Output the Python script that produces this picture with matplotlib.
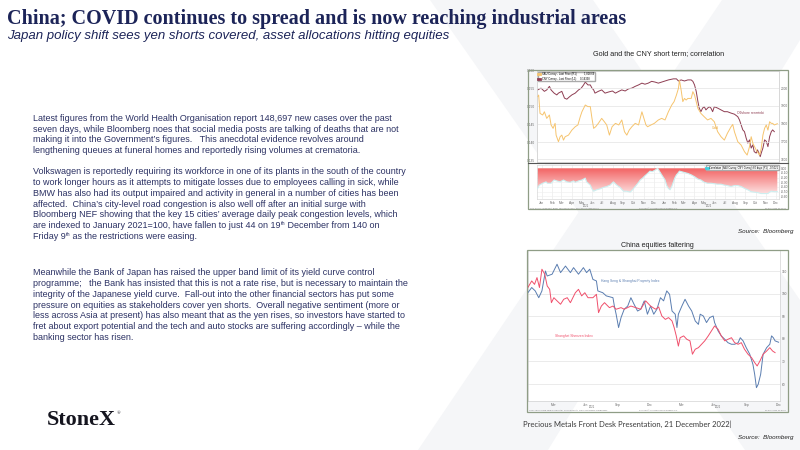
import numpy as np
import pandas as pd
import matplotlib
matplotlib.use('Agg')
import matplotlib.pyplot as plt
import matplotlib.dates as mdates
from matplotlib.colors import LinearSegmentedColormap
from matplotlib.patches import Rectangle, Polygon
from matplotlib.lines import Line2D

plt.rcParams['font.family'] = ['Liberation Sans', 'DejaVu Sans']

#%% data - gold and CNY (top chart)

gold_dates = ['2021-01-03', '2021-01-06', '2021-01-10', '2021-01-18', '2021-01-23', '2021-01-30',
              '2021-02-07', '2021-02-12', '2021-02-18', '2021-02-24', '2021-02-27', '2021-03-06',
              '2021-03-11', '2021-03-16', '2021-03-21', '2021-03-26', '2021-04-05', '2021-04-15',
              '2021-04-25', '2021-05-03', '2021-05-10', '2021-05-15', '2021-05-20', '2021-05-25',
              '2021-06-02', '2021-06-09', '2021-06-14', '2021-06-19', '2021-06-25', '2021-07-03',
              '2021-07-13', '2021-07-21', '2021-07-28', '2021-08-05', '2021-08-13', '2021-08-23',
              '2021-09-02', '2021-09-11', '2021-09-19', '2021-09-26', '2021-10-03', '2021-10-11',
              '2021-10-21', '2021-10-31', '2021-11-10', '2021-11-16', '2021-11-22', '2021-11-27',
              '2021-12-07', '2021-12-17', '2021-12-29', '2022-01-08', '2022-01-18', '2022-01-28',
              '2022-02-07', '2022-02-14', '2022-02-21', '2022-02-27', '2022-03-02', '2022-03-07',
              '2022-03-12', '2022-03-17', '2022-03-22', '2022-03-27', '2022-04-06', '2022-04-11',
              '2022-04-16', '2022-04-21', '2022-04-26', '2022-05-05', '2022-05-15', '2022-05-25',
              '2022-06-04', '2022-06-14', '2022-06-24', '2022-07-04', '2022-07-14', '2022-07-23',
              '2022-08-03', '2022-08-08', '2022-08-13', '2022-08-23', '2022-09-02', '2022-09-12',
              '2022-09-20', '2022-09-27', '2022-10-02', '2022-10-07', '2022-10-17', '2022-10-27',
              '2022-11-01', '2022-11-06', '2022-11-11', '2022-11-16', '2022-11-21', '2022-11-26',
              '2022-12-01', '2022-12-05', '2022-12-10', '2022-12-19']
gold_price = [1952, 1961, 1858, 1849, 1867, 1830,
              1849, 1793, 1774, 1802, 1736, 1699,
              1727, 1736, 1708, 1727, 1736, 1764,
              1783, 1793, 1839, 1867, 1886, 1905,
              1896, 1896, 1830, 1774, 1783, 1802,
              1830, 1811, 1793, 1736, 1783, 1802,
              1793, 1821, 1755, 1736, 1764, 1783,
              1802, 1793, 1867, 1830, 1793, 1783,
              1793, 1802, 1821, 1830, 1821, 1867,
              1905, 1924, 1961, 1999, 2045, 1989,
              1924, 1942, 1933, 1942, 1942, 1980,
              1961, 1924, 1886, 1858, 1839, 1821,
              1830, 1811, 1755, 1727, 1708, 1746,
              1783, 1796, 1755, 1699, 1680, 1643,
              1624, 1671, 1727, 1690, 1652, 1624,
              1661, 1736, 1774, 1793, 1764, 1811,
              1802, 1802, 1793, 1800]

cny_dates = ['2021-01-03', '2021-01-13', '2021-01-23', '2021-01-30', '2021-02-07', '2021-02-12',
             '2021-02-21', '2021-03-01', '2021-03-06', '2021-03-16', '2021-03-24', '2021-03-31',
             '2021-04-07', '2021-04-15', '2021-04-25', '2021-05-05', '2021-05-13', '2021-05-20',
             '2021-05-25', '2021-06-02', '2021-06-09', '2021-06-14', '2021-06-19', '2021-06-23',
             '2021-07-03', '2021-07-13', '2021-07-23', '2021-08-02', '2021-08-14', '2021-08-23',
             '2021-09-02', '2021-09-11', '2021-09-21', '2021-10-01', '2021-10-11', '2021-10-21',
             '2021-10-31', '2021-11-10', '2021-11-19', '2021-11-29', '2021-12-09', '2021-12-19',
             '2021-12-29', '2022-01-08', '2022-01-18', '2022-01-28', '2022-02-12', '2022-02-21',
             '2022-02-27', '2022-03-07', '2022-03-17', '2022-03-27', '2022-04-06', '2022-04-11',
             '2022-04-16', '2022-04-21', '2022-04-26', '2022-04-30', '2022-05-05', '2022-05-10',
             '2022-05-15', '2022-05-20', '2022-05-25', '2022-05-30', '2022-06-04', '2022-06-09',
             '2022-06-14', '2022-06-24', '2022-07-04', '2022-07-14', '2022-07-23', '2022-08-03',
             '2022-08-13', '2022-08-23', '2022-08-28', '2022-09-02', '2022-09-07', '2022-09-12',
             '2022-09-17', '2022-09-22', '2022-09-27', '2022-10-02', '2022-10-07', '2022-10-11',
             '2022-10-17', '2022-10-21', '2022-10-27', '2022-10-29', '2022-11-01', '2022-11-06',
             '2022-11-11', '2022-11-16', '2022-11-21', '2022-11-26', '2022-12-01', '2022-12-05',
             '2022-12-10']
cny_usd = [0.1547, 0.1552, 0.1543, 0.1547, 0.1557, 0.1547,
           0.1538, 0.1533, 0.1538, 0.1543, 0.1524, 0.1521,
           0.1527, 0.1533, 0.1538, 0.1547, 0.1552, 0.1561,
           0.1569, 0.1561, 0.1561, 0.1552, 0.1547, 0.1538,
           0.1543, 0.1547, 0.1538, 0.1541, 0.1544, 0.1538,
           0.1543, 0.1547, 0.1544, 0.1550, 0.1552, 0.1557,
           0.1561, 0.1566, 0.1563, 0.1566, 0.1571, 0.1569,
           0.1566, 0.1569, 0.1572, 0.1575, 0.1578, 0.1578,
           0.1572, 0.1575, 0.1572, 0.1575, 0.1575, 0.1571,
           0.1561, 0.1543, 0.1515, 0.1496, 0.1486, 0.1496,
           0.1500, 0.1491, 0.1496, 0.1500, 0.1496, 0.1486,
           0.1500, 0.1496, 0.1491, 0.1486, 0.1486, 0.1482,
           0.1479, 0.1472, 0.1463, 0.1449, 0.1435, 0.1430,
           0.1412, 0.1398, 0.1407, 0.1384, 0.1393, 0.1374,
           0.1370, 0.1379, 0.1365, 0.1360, 0.1370, 0.1384,
           0.1407, 0.1403, 0.1388, 0.1416, 0.1430, 0.1435,
           0.1430]

corr_dates = ['2021-01-03', '2021-01-08', '2021-01-18', '2021-01-28', '2021-02-01', '2021-02-12',
              '2021-02-21', '2021-03-01', '2021-03-11', '2021-03-21', '2021-03-31', '2021-04-10',
              '2021-04-20', '2021-04-25', '2021-05-05', '2021-05-15', '2021-05-25', '2021-05-29',
              '2021-06-09', '2021-06-14', '2021-06-19', '2021-06-28', '2021-07-08', '2021-07-18',
              '2021-07-28', '2021-08-07', '2021-08-17', '2021-08-27', '2021-09-06', '2021-09-16',
              '2021-09-26', '2021-10-06', '2021-10-13', '2021-10-21', '2021-10-29', '2021-11-05',
              '2021-11-12', '2021-11-19', '2021-11-27', '2021-12-04', '2021-12-11', '2021-12-19',
              '2021-12-27', '2022-01-08', '2022-01-18', '2022-01-23', '2022-01-28', '2022-02-02',
              '2022-02-07', '2022-02-12', '2022-02-16', '2022-02-21', '2022-02-25', '2022-03-02',
              '2022-03-07', '2022-03-17', '2022-03-27', '2022-04-06', '2022-04-16', '2022-04-26',
              '2022-05-05', '2022-05-15', '2022-05-25', '2022-06-04', '2022-06-14', '2022-06-24',
              '2022-07-04', '2022-07-14', '2022-07-23', '2022-08-03', '2022-08-13', '2022-08-23',
              '2022-09-02', '2022-09-12', '2022-09-22', '2022-10-02', '2022-10-11', '2022-10-21',
              '2022-11-01', '2022-11-11', '2022-11-21', '2022-11-26', '2022-12-01', '2022-12-10',
              '2022-12-19']
corr_vals = [-0.43, -0.36, -0.32, -0.29, -0.32, -0.32,
             -0.25, -0.27, -0.29, -0.25, -0.29, -0.30,
             -0.27, -0.30, -0.27, -0.25, -0.21, -0.29,
             -0.36, -0.44, -0.49, -0.46, -0.44, -0.41,
             -0.39, -0.36, -0.29, -0.36, -0.41, -0.49,
             -0.49, -0.51, -0.46, -0.39, -0.32, -0.25,
             -0.21, -0.16, -0.11, -0.06, -0.07, -0.04,
             -0.00, -0.14, -0.25, -0.37, -0.43, -0.46,
             -0.39, -0.29, -0.21, -0.14, -0.11, -0.06,
             -0.07, -0.09, -0.11, -0.14, -0.18, -0.23,
             -0.25, -0.30, -0.32, -0.32, -0.33, -0.34,
             -0.34, -0.36, -0.37, -0.39, -0.37, -0.37,
             -0.39, -0.43, -0.46, -0.50, -0.51, -0.52,
             -0.54, -0.54, -0.54, -0.51, -0.49, -0.50,
             -0.50]

#%% data - China equities (bottom chart)

prop_dates = ['2021-01-02', '2021-01-13', '2021-01-23', '2021-02-02', '2021-02-11', '2021-02-21',
              '2021-02-26', '2021-03-12', '2021-03-26', '2021-04-05', '2021-04-19', '2021-05-03',
              '2021-05-12', '2021-05-26', '2021-06-09', '2021-06-18', '2021-06-27', '2021-07-06',
              '2021-07-16', '2021-07-20', '2021-08-03', '2021-08-13', '2021-09-01', '2021-09-05',
              '2021-09-10', '2021-09-17', '2021-09-24', '2021-10-03', '2021-10-13', '2021-10-22',
              '2021-10-31', '2021-11-10', '2021-11-19', '2021-11-29', '2021-12-08', '2021-12-17',
              '2021-12-26', '2022-01-04', '2022-01-14', '2022-01-23', '2022-02-01', '2022-02-09',
              '2022-02-16', '2022-02-25', '2022-03-02', '2022-03-06', '2022-03-16', '2022-03-25',
              '2022-04-04', '2022-04-13', '2022-04-23', '2022-05-02', '2022-05-07', '2022-05-16',
              '2022-05-25', '2022-06-03', '2022-06-13', '2022-06-17', '2022-06-27', '2022-07-06',
              '2022-07-16', '2022-07-25', '2022-08-04', '2022-08-13', '2022-08-23', '2022-08-29',
              '2022-09-06', '2022-09-15', '2022-09-25', '2022-10-04', '2022-10-09', '2022-10-14',
              '2022-10-19', '2022-10-26', '2022-11-02', '2022-11-12', '2022-11-21', '2022-11-26',
              '2022-12-01', '2022-12-06', '2022-12-16']
prop_idx = [100.4, 102.7, 101.2, 98.2, 101.2, 110.0,
            107.8, 108.6, 113.0, 109.3, 112.2, 109.3,
            111.5, 108.6, 111.5, 109.3, 110.8, 106.3,
            105.6, 101.2, 100.4, 99.0, 98.2, 94.5,
            90.9, 85.0, 89.4, 93.1, 94.5, 98.2,
            95.3, 92.3, 93.1, 96.8, 90.9, 94.5,
            90.9, 93.1, 98.2, 96.8, 101.2, 99.7,
            92.3, 90.9, 85.0, 90.9, 94.5, 97.5,
            94.5, 92.3, 87.9, 86.4, 90.9, 90.1,
            87.2, 89.4, 90.1, 87.2, 83.5, 81.3,
            79.8, 78.3, 77.6, 77.6, 78.3, 80.5,
            79.1, 76.1, 73.2, 68.7, 64.3, 58.4,
            59.9, 64.3, 73.2, 76.1, 77.6, 81.3,
            80.5, 79.1, 78.5]

shsz_dates = ['2021-01-02', '2021-01-13', '2021-01-21', '2021-01-28', '2021-02-04', '2021-02-11',
              '2021-02-19', '2021-02-26', '2021-03-05', '2021-03-10', '2021-03-17', '2021-03-26',
              '2021-04-05', '2021-04-14', '2021-04-24', '2021-05-03', '2021-05-17', '2021-05-26',
              '2021-06-04', '2021-06-13', '2021-06-22', '2021-07-06', '2021-07-16', '2021-07-22',
              '2021-07-30', '2021-08-08', '2021-08-22', '2021-09-01', '2021-09-10', '2021-09-24',
              '2021-10-03', '2021-10-22', '2021-11-05', '2021-11-19', '2021-12-03', '2021-12-17',
              '2021-12-31', '2022-01-09', '2022-01-18', '2022-01-28', '2022-02-06', '2022-02-16',
              '2022-02-22', '2022-02-28', '2022-03-06', '2022-03-11', '2022-03-21', '2022-03-30',
              '2022-04-08', '2022-04-15', '2022-04-23', '2022-05-02', '2022-05-11', '2022-05-20',
              '2022-05-30', '2022-06-08', '2022-06-17', '2022-06-27', '2022-07-06', '2022-07-16',
              '2022-07-25', '2022-08-04', '2022-08-13', '2022-08-23', '2022-09-01', '2022-09-10',
              '2022-09-20', '2022-09-30', '2022-10-09', '2022-10-16', '2022-10-24', '2022-11-02',
              '2022-11-12', '2022-11-21', '2022-11-29', '2022-12-06']
shsz_idx = [102.7, 105.6, 104.1, 107.1, 102.7, 110.8,
            108.6, 103.4, 101.9, 96.0, 98.2, 96.8,
            95.3, 97.5, 98.2, 96.0, 100.4, 101.9,
            99.0, 100.4, 98.2, 98.2, 99.7, 91.6,
            94.5, 96.0, 93.8, 94.5, 93.1, 93.8,
            93.1, 94.5, 93.8, 93.1, 96.8, 94.5,
            93.1, 94.1, 90.1, 88.6, 89.4, 87.9,
            85.0, 81.3, 76.8, 80.5, 81.3, 79.8,
            79.1, 73.2, 75.4, 76.1, 77.6, 79.1,
            81.3, 83.5, 85.7, 84.2, 81.3, 79.1,
            79.8, 80.5, 78.3, 77.6, 78.3, 75.4,
            73.2, 71.7, 69.5, 68.0, 70.2, 73.2,
            74.6, 76.1, 74.6, 73.9]

month_ticks_top = pd.date_range('2021-01-01', '2022-12-01', freq='MS') + pd.Timedelta(days=14)
quarter_ticks = [pd.Timestamp(d) for d in ['2021-03-15', '2021-06-15', '2021-09-15', '2021-12-15',
                                           '2022-03-15', '2022-06-15', '2022-09-15', '2022-12-15']]

#%% figure setup

W, H = 800, 450
fig = plt.figure(figsize=(8, 4.5), dpi=100)
fig.patch.set_facecolor('white')
renderer = fig.canvas.get_renderer()

navy = '#1c2458'
body_col = '#2c3264'
frame_col = '#8f9d86'
tiny = 2.3


def box(x0, y0, x1, y1):
    return [x0 / W, 1 - y1 / H, (x1 - x0) / W, (y1 - y0) / H]


def put(x, y, s, **kw):
    return fig.text(x / W, 1 - y / H, s, **kw)


def fit(t, width):
    w = t.get_window_extent(renderer).width
    t.set_fontsize(t.get_fontsize() * width / w)


def put_parts(x, y, parts, size, color):
    # a line with superscripts: parts is a list of (text, is_superscript)
    cur = x
    for s, sup in parts:
        if sup:
            t = put(cur, y - size * 0.5, s, fontsize=size * 0.62, color=color)
        else:
            t = put(cur, y, s, fontsize=size, color=color)
        cur += t.get_window_extent(renderer).width


# faint watermark X behind the right half of the slide
wm = '#f5f6f8'
fig.patches.append(Polygon([(430 / W, 1), (593 / W, 1), (1, 1 - 300 / H), (1, 0), (745 / W, 0)],
                           closed=True, transform=fig.transFigure, fc=wm, ec='none', zorder=-5))
fig.patches.append(Polygon([(722 / W, 1), (1, 1), (1, 1 - 40 / H), (548 / W, 0), (418 / W, 0)],
                           closed=True, transform=fig.transFigure, fc=wm, ec='none', zorder=-5))

#%% slide text

t = put(7, 24, 'China; COVID continues to spread and is now reaching industrial areas',
        family='Liberation Serif', weight='bold', color=navy, fontsize=15)
fit(t, 620)
t = put(7, 39, 'Japan policy shift sees yen shorts covered, asset allocations hitting equities',
        style='italic', color=navy, fontsize=9)
fit(t, 444)

para1 = ['Latest figures from the World Health Organisation report 148,697 new cases over the past',
         'seven days, while Bloomberg noes that social media posts are talking of deaths that are not',
         'making it into the Government\u2019s figures.   This anecdotal evidence revolves around',
         'lengthening queues at funeral homes and reportedly rising volumes at crematoria.']
para2 = ['Volkswagen is reportedly requiring its workforce in one of its plants in the south of the country',
         'to work longer hours as it attempts to mitigate losses due to employees calling in sick, while',
         'BMW has also had its output impaired and activity in general in a number of cities has been',
         'affected.  China\u2019s city-level road congestion is also well off after an initial surge with',
         'Bloomberg NEF showing that the key 15 cities\u2019 average daily peak congestion levels, which',
         [('are indexed to January 2021=100, have fallen to just 44 on 19', False), ('th', True),
          (' December from 140 on', False)],
         [('Friday 9', False), ('th', True), (' as the restrictions were easing.', False)]]
para3 = ['Meanwhile the Bank of Japan has raised the upper band limit of its yield curve control',
         'programme;   the Bank has insisted that this is not a rate rise, but is necessary to maintain the',
         'integrity of the Japanese yield curve.  Fall-out into the other financial sectors has put some',
         'pressure on equities as stakeholders cover yen shorts.  Overall negative sentiment (more or',
         'less across Asia at present) has also meant that as the yen rises, so investors have started to',
         'fret about export potential and the tech and auto stocks are suffering accordingly \u2013 while the',
         'banking sector has risen.']

probe = put(33, 0, para2[0], fontsize=6)
fit(probe, 377)
body_size = probe.get_fontsize()
probe.remove()

step = 10.75
for lines, y0 in [(para1, 121), (para2, 174.3), (para3, 275.3)]:
    for i, line in enumerate(lines):
        if isinstance(line, str):
            put(33, y0 + i * step, line, fontsize=body_size, color=body_col)
        else:
            put_parts(33, y0 + i * step, line, body_size, body_col)

t = put(46.5, 425, 'StoneX', family='Liberation Serif', weight='bold', color='#15151f', fontsize=15)
fit(t, 69)
put(116.5, 414, '\u00ae', family='Liberation Serif', color='#15151f', fontsize=3.5)

t = put(523, 427, 'Precious Metals Front Desk Presentation, 21 December 2022|',
        family='Lato', color='#3a3a3a', fontsize=7)
fit(t, 208)

for yy in [233.5, 439.5]:
    t = put(793, yy, 'Source:  Bloomberg', style='italic', color='#222222', fontsize=6, ha='right')
    fit(t, 56)

t = put(659, 55.5, 'Gold and the CNY short term; correlation', color='#222222', fontsize=6, ha='center')
fit(t, 134)
t = put(657, 247, 'China equities faltering', color='#222222', fontsize=6, ha='center')
fit(t, 74)

#%% top chart: gold vs CNY

gd = pd.to_datetime(gold_dates)
cd = pd.to_datetime(cny_dates)
kd = pd.to_datetime(corr_dates)
x_start, x_end = pd.Timestamp('2021-01-01'), pd.Timestamp('2022-12-24')

ax1 = fig.add_axes(box(537, 71, 779, 162))
ax1r = ax1.twinx()
ax1.plot(cd, cny_usd, color='#8e3d52', lw=0.7)
ax1r.plot(gd, gold_price, color='#f6c46e', lw=0.7)
ax1.set_ylim(0.1345, 0.1600)
ax1r.set_ylim(1585, 2096)
ax1.set_xlim(x_start, x_end)
ax1.set_yticks([0.135, 0.140, 0.145, 0.150, 0.155, 0.160])
ax1.set_yticklabels(['0.135', '0.140', '0.145', '0.150', '0.155', '0.160'])
ax1r.set_yticks([1600, 1700, 1800, 1900, 2000])
ax1r.grid(axis='y', color='#e3e3e3', lw=0.5)
ax1.set_xticks([])
for a in (ax1, ax1r):
    a.tick_params(length=0, labelsize=tiny, pad=1.5, colors='#666666')
    for s in a.spines.values():
        s.set_color('#d0d0d0')
        s.set_linewidth(0.4)
ax1r.legend([Line2D([0], [0], color='#f6c46e', lw=2), Line2D([0], [0], color='#8e3d52', lw=2)],
            ['XAU Curncy - Last Price (R1)          1,818.69', 'CNY Curncy - Last Price (L1)     0.14338'],
            loc='upper left', fontsize=1.9, frameon=True, borderpad=0.3, handlelength=0.8,
            labelspacing=0.1, handletextpad=0.5, borderaxespad=0.2, fancybox=False,
            edgecolor='#aaaaaa', framealpha=1)
put(737, 114.5, 'Offshore renminbi', color='#8e3d52', fontsize=2.4)
put(712, 129, 'Gold', color='#e8a940', fontsize=2.4)

ax2 = fig.add_axes(box(537, 165, 779, 199))
poly = ax2.fill_between(kd, 0, corr_vals, color='none', lw=0)
red_cmap = LinearSegmentedColormap.from_list('reds', ['#f25e5e', '#fde2e2'])
grad = np.linspace(0, 1, 256).reshape(-1, 1)
xn = mdates.date2num([x_start, x_end])
im = ax2.imshow(grad, extent=[xn[0], xn[1], -0.56, 0.0], aspect='auto', cmap=red_cmap,
                origin='upper', zorder=1)
im.set_clip_path(poly.get_paths()[0], transform=ax2.transData)
ax2.plot(kd, corr_vals, color='#cdeff0', lw=0.8, zorder=3)
ax2.set_xlim(x_start, x_end)
ax2.set_ylim(-0.657, 0.071)
ax2.yaxis.tick_right()
ax2.set_yticks([0.0, -0.1, -0.2, -0.3, -0.4, -0.5, -0.6])
ax2.set_yticklabels(['0.00', '-0.10', '-0.20', '-0.30', '-0.40', '-0.50', '-0.60'])
ax2.set_xticks(month_ticks_top)
ax2.xaxis.set_major_formatter(mdates.DateFormatter('%b'))
ax2.grid(axis='x', color='#e6e6e6', lw=0.4, zorder=0)
ax2.grid(axis='y', color='#eeeeee', lw=0.4, zorder=0)
ax2.set_axisbelow(True)
ax2.tick_params(length=0, labelsize=tiny, pad=1.2, colors='#666666')
for s in ax2.spines.values():
    s.set_color('#d0d0d0')
    s.set_linewidth(0.4)
ax2.legend([Line2D([0], [0], color='#40d0e0', lw=2)],
           ['Correlation (XAU Curncy, CNY Curncy) 60 days (R1)  -0.5021'],
           loc='upper right', fontsize=1.8, frameon=True, borderpad=0.2, handlelength=0.8,
           handletextpad=0.4, borderaxespad=0.1, fancybox=False, edgecolor='#aaaaaa', framealpha=1)

put(586, 207.3, '2021', fontsize=2.0, color='#666666', ha='center')
put(709, 207.3, '2022', fontsize=2.0, color='#666666', ha='center')
put(530, 209.0, 'XAU Curncy (Gold Spot $/Oz)  Bloomberg  Daily 01JAN2021-20DEC2022', fontsize=1.5, color='#777777')
put(658, 209.0, 'Copyright\u00a9 2022 Bloomberg Finance L.P.', fontsize=1.5, color='#777777', ha='center')
put(786, 209.0, '20-Dec-2022 10:41:33', fontsize=1.5, color='#777777', ha='right')

fig.patches.append(Rectangle((528 / W, 1 - 209.5 / H), 260 / W, 139.5 / H, transform=fig.transFigure,
                             fill=False, ec=frame_col, lw=0.9))
fig.lines.append(Line2D([528 / W, 788 / W], [1 - 163 / H, 1 - 163 / H], transform=fig.transFigure,
                        color='#555555', lw=0.8))

#%% bottom chart: China equities

pd_ = pd.to_datetime(prop_dates)
sd = pd.to_datetime(shsz_dates)
b_start, b_end = pd.Timestamp('2021-01-01'), pd.Timestamp('2022-12-20')

ax3 = fig.add_axes(box(527.5, 250, 780, 401))
ax3.plot(pd_, prop_idx, color='#5a7db0', lw=0.7, zorder=3)
ax3.plot(sd, shsz_idx, color='#f0506c', lw=0.7, zorder=3)
ax3.set_xlim(b_start, b_end)
ax3.set_ylim(52.5, 119.3)
ax3.yaxis.tick_right()
ax3.set_yticks([60, 70, 80, 90, 100, 110])
ax3.set_xticks(quarter_ticks)
ax3.xaxis.set_major_formatter(mdates.DateFormatter('%b'))
ax3.grid(axis='y', color='#e3e3e3', lw=0.5)
ax3.tick_params(length=0, labelsize=tiny, pad=1.2, colors='#666666')
for s in ax3.spines.values():
    s.set_color('#c8c8c8')
    s.set_linewidth(0.4)
put(601, 282, 'Hang Seng & Shanghai Property Index', color='#5a7db0', fontsize=2.4)
put(555, 337, 'Shanghai Shenzen Index', color='#f0506c', fontsize=2.4)

put(592, 408.4, '2021', fontsize=2.0, color='#666666', ha='center')
put(718, 408.4, '2022', fontsize=2.0, color='#666666', ha='center')
put(529, 411.0, 'HSCI Index (Hang Seng Composite)  China Property  Daily 01JAN2021-20DEC2022', fontsize=1.5, color='#777777')
put(658, 411.0, 'Copyright\u00a9 2022 Bloomberg Finance L.P.', fontsize=1.5, color='#777777', ha='center')
put(786, 411.0, '20-Dec-2022 10:45:02', fontsize=1.5, color='#777777', ha='right')

fig.patches.append(Rectangle((527 / W, 1 - 412 / H), 261 / W, 162 / H, transform=fig.transFigure,
                             fill=False, ec=frame_col, lw=0.9))

fig.savefig('out.png', dpi=100, facecolor='white')
